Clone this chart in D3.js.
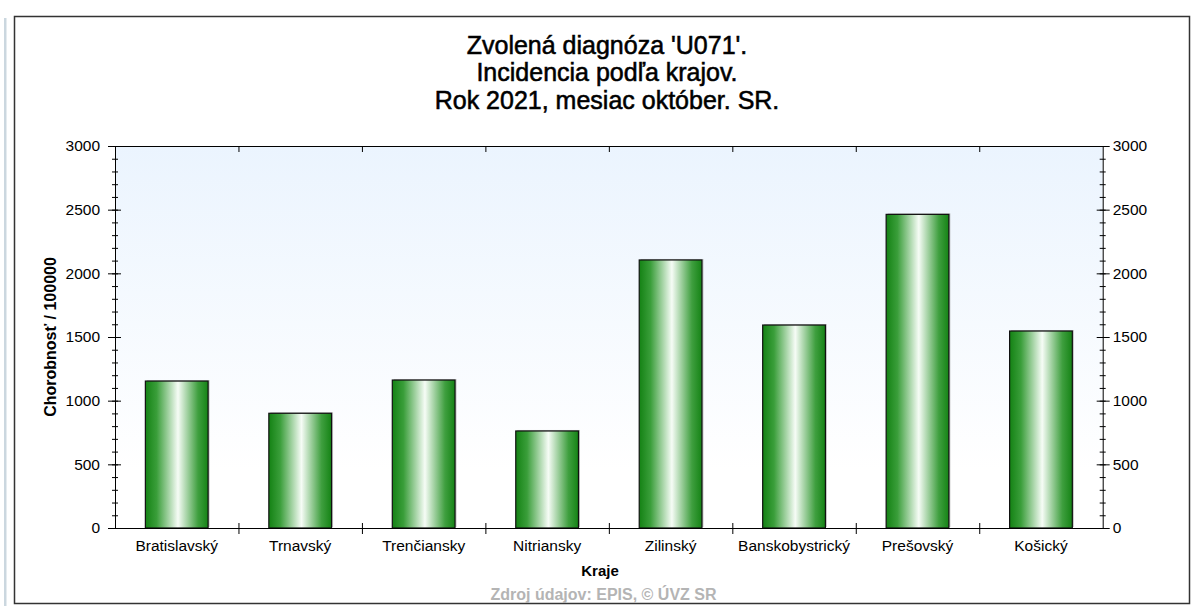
<!DOCTYPE html>
<html>
<head>
<meta charset="utf-8">
<script src="https://cdn.jsdelivr.net/npm/d3@7"></script>
<style>
  body { margin: 0; background: #fff; }
  svg { display: block; }
</style>
</head>
<body>
<svg id="chart" width="1197" height="606"></svg>
<script>
// data
let regions = ['Bratislavský', 'Trnavský', 'Trenčiansky', 'Nitriansky', 'Zilinský', 'Banskobystrický', 'Prešovský', 'Košický'];
let incidence = [1154, 901, 1162, 762, 2105, 1594, 2463, 1547];
let titleLines = ["Zvolená diagnóza 'U071'.", 'Incidencia podľa krajov.', 'Rok 2021, mesiac október. SR.'];
let yMajorTicks = [0, 500, 1000, 1500, 2000, 2500, 3000];
let yMinorTicks = d3.range(0, 3001, 100);

let plot = {left: 115, right: 1102.7, top: 146, bottom: 528};
let font = '"Liberation Sans", Arial, sans-serif';

let svg = d3.select('#chart');
let defs = svg.append('defs');

let bg = defs.append('linearGradient').attr('id', 'plotBg')
  .attr('x1', 0).attr('y1', 0).attr('x2', 0).attr('y2', 1);
bg.append('stop').attr('offset', '0%').attr('stop-color', '#ebf4fe');
bg.append('stop').attr('offset', '85%').attr('stop-color', '#ffffff');

let barFill = defs.append('linearGradient').attr('id', 'barFill')
  .attr('x1', 0).attr('y1', 0).attr('x2', 1).attr('y2', 0);
[[0, '#148214'], [0.18, '#3a9e3a'], [0.52, '#f6fcf6'], [0.84, '#3f9f3f'], [1, '#158315']]
  .forEach(s => barFill.append('stop').attr('offset', s[0]).attr('stop-color', s[1]));

// frame
svg.append('rect').attr('x', 4).attr('y', 18).attr('width', 2.5).attr('height', 588).attr('fill', '#cbd7df');
svg.append('rect').attr('x', 14.5).attr('y', 16.5).attr('width', 1175).attr('height', 587)
  .attr('fill', '#fff').attr('stroke', '#333').attr('stroke-width', 1.5);

// title
svg.append('g').selectAll('text').data(titleLines).join('text')
  .attr('x', 607).attr('y', (d, i) => 53.5 + i * 27.5)
  .attr('text-anchor', 'middle')
  .style('font-family', font).style('font-size', '25px')
  .attr('fill', '#000').attr('stroke', '#000').attr('stroke-width', 0.55)
  .text(d => d);

let x = d3.scaleBand().domain(regions).range([plot.left, plot.right]);
let y = d3.scaleLinear().domain([0, 3000]).range([plot.bottom, plot.top]);

svg.append('rect').attr('x', plot.left).attr('y', plot.top)
  .attr('width', plot.right - plot.left).attr('height', plot.bottom - plot.top)
  .attr('fill', 'url(#plotBg)');

// bars
let barW = x.bandwidth() * 0.508;
let bars = svg.append('g');
bars.selectAll('.shadow').data(incidence).join('rect').attr('class', 'shadow')
  .attr('x', (d, i) => x(regions[i]) + (x.bandwidth() - barW) / 2 + 1.5)
  .attr('y', d => y(d) - 1)
  .attr('width', barW).attr('height', d => y(0) - y(d))
  .attr('fill', '#9a9a9a').attr('opacity', 0.6);
bars.selectAll('.bar').data(incidence).join('rect').attr('class', 'bar')
  .attr('x', (d, i) => x(regions[i]) + (x.bandwidth() - barW) / 2)
  .attr('y', d => y(d))
  .attr('width', barW).attr('height', d => y(0) - y(d))
  .attr('fill', 'url(#barFill)').attr('stroke', '#111').attr('stroke-width', 1.2);

// axes
function styleAxis(g) {
  g.selectAll('path, line').attr('stroke', '#000');
  g.selectAll('text').style('font-family', font).style('font-size', '15.5px').attr('fill', '#000');
}
let fmt = d3.format('d');

let leftMinor = svg.append('g').attr('transform', `translate(${plot.left},0)`)
  .call(d3.axisLeft(y).tickValues(yMinorTicks).tickSize(3).tickFormat(''));
leftMinor.select('.domain').remove();
leftMinor.selectAll('.tick line').attr('x2', 3).attr('x1', -3);
let leftAxis = svg.append('g').attr('transform', `translate(${plot.left},0)`)
  .call(d3.axisLeft(y).tickValues(yMajorTicks).tickFormat(fmt).tickSize(7).tickSizeOuter(0).tickPadding(8));
leftAxis.selectAll('.tick line').attr('x2', 6).attr('x1', -7);
styleAxis(leftMinor); styleAxis(leftAxis);

let rightMinor = svg.append('g').attr('transform', `translate(${plot.right},0)`)
  .call(d3.axisRight(y).tickValues(yMinorTicks).tickSize(3).tickFormat(''));
rightMinor.select('.domain').remove();
rightMinor.selectAll('.tick line').attr('x1', -3).attr('x2', 3);
let rightAxis = svg.append('g').attr('transform', `translate(${plot.right},0)`)
  .call(d3.axisRight(y).tickValues(yMajorTicks).tickFormat(fmt).tickSize(7).tickSizeOuter(0).tickPadding(3));
rightAxis.selectAll('.tick line').attr('x1', -6).attr('x2', 7);
styleAxis(rightMinor); styleAxis(rightAxis);

// band boundary ticks
let bounds = regions.slice(1).map(r => x(r));
let pxScale = d3.scaleLinear().domain([plot.left, plot.right]).range([plot.left, plot.right]);
let topAxis = svg.append('g').attr('transform', `translate(0,${plot.top})`)
  .call(d3.axisTop(pxScale).tickValues(bounds).tickSize(0).tickSizeOuter(0).tickFormat(''));
topAxis.selectAll('.tick line').attr('y1', 0).attr('y2', 6);
styleAxis(topAxis);

let bottomAxis = svg.append('g').attr('transform', `translate(0,${plot.bottom})`)
  .call(d3.axisBottom(pxScale).tickValues(bounds).tickSize(6).tickSizeOuter(0).tickFormat(''));
bottomAxis.selectAll('.tick line').attr('y1', -5).attr('y2', 6);
styleAxis(bottomAxis);

let bottomLabels = svg.append('g').attr('transform', `translate(0,${plot.bottom})`)
  .call(d3.axisBottom(x).tickSize(0).tickPadding(12));
bottomLabels.select('.domain').remove();
styleAxis(bottomLabels);

// axis titles
svg.append('text')
  .attr('transform', `translate(56,337) rotate(-90)`)
  .attr('text-anchor', 'middle')
  .style('font-family', font).style('font-size', '16px').style('font-weight', 'bold')
  .text('Chorobnosť / 100000');

svg.append('text').attr('x', 600).attr('y', 576).attr('text-anchor', 'middle')
  .style('font-family', font).style('font-size', '15px').style('font-weight', 'bold')
  .text('Kraje');

svg.append('text').attr('x', 603.5).attr('y', 600).attr('text-anchor', 'middle')
  .style('font-family', font).style('font-size', '16px').style('font-weight', 'bold')
  .attr('fill', '#b4b4b4')
  .text('Zdroj údajov: EPIS, © ÚVZ SR');
</script>
</body>
</html>
